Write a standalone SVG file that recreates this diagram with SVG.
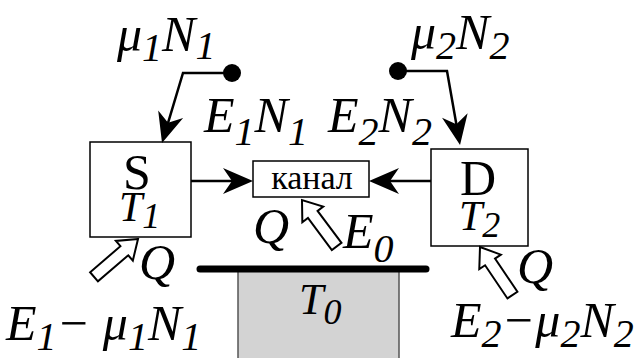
<svg xmlns="http://www.w3.org/2000/svg" width="641" height="358" viewBox="0 0 641 358">
<style>
text{font-family:"Liberation Serif","Times New Roman",serif;fill:#000}
.it{font-style:italic}
.lab{font-size:50px}
.sub{font-size:40px}
.box{fill:#fff;stroke:#000;stroke-width:1.5}
.con{fill:none;stroke:#000;stroke-width:2.5}
.blk{fill:#fff;stroke:#000;stroke-width:2;stroke-linejoin:miter}
</style>
<defs>
<marker id="ah" viewBox="-31 -14 32 28" refX="-10" refY="0" markerWidth="32" markerHeight="28" markerUnits="userSpaceOnUse" orient="auto">
<path d="M0,0 L-30,-13 L-21,0 L-30,13 Z" fill="#000"/>
</marker>
<polygon id="blk" points="0,0 -18,-13 -18,-6 -58,-6 -58,6 -18,6 -18,13"/>
</defs>
<rect width="641" height="358" fill="#fff"/>
<g id="bath">
<rect x="238" y="270" width="161" height="95" fill="#d3d3d3" stroke="#555" stroke-width="1.5"/>
<line x1="200" y1="269" x2="426" y2="269" stroke="#000" stroke-width="7" stroke-linecap="round"/>
<text class="it" x="299" y="314" font-size="44">T<tspan font-size="36" dy="10">0</tspan></text>
</g>
<g id="S">
<rect class="box" x="90" y="142" width="101" height="95"/>
<text x="137" y="189" font-size="50" text-anchor="middle">S</text>
<text class="it" x="119" y="221" font-size="42">T<tspan font-size="36" dy="7">1</tspan></text>
</g>
<g id="D">
<rect class="box" x="431" y="149" width="97" height="97"/>
<text x="478" y="195" font-size="50" text-anchor="middle">D</text>
<text class="it" x="459" y="230" font-size="42">T<tspan font-size="36" dy="7">2</tspan></text>
</g>
<g id="channel">
<rect class="box" x="253" y="161" width="116" height="36"/>
<text x="312" y="189" font-size="34" text-anchor="middle">канал</text>
</g>
<g id="connectors">
<line class="con" x1="191" y1="181" x2="243" y2="181" marker-end="url(#ah)"/>
<line class="con" x1="431" y1="181" x2="379" y2="181" marker-end="url(#ah)"/>
<circle cx="232" cy="73" r="9" fill="#000"/>
<polyline class="con" points="232,73 183,73 164.9,133.4" marker-end="url(#ah)"/>
<circle cx="398" cy="71" r="9" fill="#000"/>
<polyline class="con" points="398,71 447,71 458.3,135.2" marker-end="url(#ah)"/>
<use href="#blk" class="blk" transform="translate(138,239) rotate(-40.7)"/>
<use href="#blk" class="blk" transform="translate(302,200) rotate(-126.7)"/>
<use href="#blk" class="blk" transform="translate(480,247) rotate(-124)"/>
</g>
<g id="labels">
<text class="it lab" x="117" y="51">μ<tspan class="sub" dy="10">1</tspan><tspan dy="-10">N</tspan><tspan class="sub" dy="8">1</tspan></text>
<text class="it lab" x="411" y="49">μ<tspan class="sub" dy="10">2</tspan><tspan dy="-10">N</tspan><tspan class="sub" dy="10">2</tspan></text>
<text class="it lab" x="204" y="132">E<tspan class="sub" dy="13">1</tspan><tspan dy="-13">N</tspan><tspan class="sub" dy="13">1</tspan></text>
<text class="it lab" x="328" y="132">E<tspan class="sub" dy="13">2</tspan><tspan dy="-13">N</tspan><tspan class="sub" dy="13">2</tspan></text>
<text class="it lab" x="253" y="243">Q</text>
<text class="it lab" x="343" y="248">E<tspan class="sub" dy="14">0</tspan></text>
<text class="it lab" x="139" y="279">Q</text>
<text class="it lab" x="517" y="283">Q</text>
<text class="it lab" x="6" y="340">E<tspan class="sub" dy="10">1</tspan><tspan dy="-10">−</tspan> μ<tspan class="sub" dy="10">1</tspan><tspan dy="-10">N</tspan><tspan class="sub" dy="10">1</tspan></text>
<text class="it lab" x="451" y="337">E<tspan class="sub" dy="10">2</tspan><tspan dy="-10">−</tspan>μ<tspan class="sub" dy="10">2</tspan><tspan dy="-10">N</tspan><tspan class="sub" dy="10">2</tspan></text>
</g>
</svg>
